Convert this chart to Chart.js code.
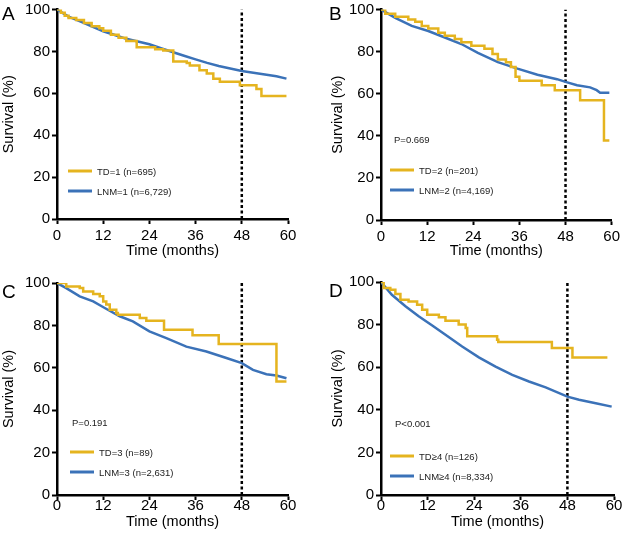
<!DOCTYPE html>
<html>
<head>
<meta charset="utf-8">
<script src="https://cdn.jsdelivr.net/npm/chart.js@4.4.1/dist/chart.umd.min.js"></script>
<style>
  html, body { margin: 0; padding: 0; background: #fff; }
  #wrap { position: relative; width: 624px; height: 536px; }
  .panel { position: absolute; width: 312px; height: 268px; }
</style>
</head>
<body>
<div id="wrap">
  <div class="panel" style="left:0;top:0"><canvas id="chartA" width="312" height="268"></canvas></div>
  <div class="panel" style="left:312px;top:0"><canvas id="chartB" width="312" height="268"></canvas></div>
  <div class="panel" style="left:0;top:268px"><canvas id="chartC" width="312" height="268"></canvas></div>
  <div class="panel" style="left:312px;top:268px"><canvas id="chartD" width="312" height="268"></canvas></div>
</div>
<script>
// axis ticks
const timeTicks = [0, 12, 24, 36, 48, 60];
const survivalTicks = [0, 20, 40, 60, 80, 100];
const cutoffMonth = 48;

// panel A: TD=1 vs LNM=1
const tdTimeA = [0, 1, 2, 3, 5, 7, 9, 11, 12, 14, 16, 18, 20.7, 25.5, 27.6, 30.2, 33.7, 34.5, 37, 38.9, 40.6, 42.3, 47.5, 51.8, 53.1, 59.6];
const tdSurvA = [100, 98.5, 97, 96, 95, 93.5, 92, 91, 89.8, 88, 86.5, 85, 82, 81, 80.4, 75.2, 74.5, 73.3, 71, 69.4, 67, 65.5, 63.9, 62, 58.7, 58.7];
const lnmTimeA = [0, 3, 6, 9, 12, 15, 18, 21, 24, 27, 30, 33, 36, 39, 42, 45, 48, 51, 54, 57, 59.6];
const lnmSurvA = [100, 96.6, 94.3, 92, 89.6, 87.8, 86, 84.7, 83.4, 81.5, 79.7, 77.9, 76.2, 74.5, 73, 71.8, 70.6, 69.8, 69, 68.1, 67];

// panel B: TD=2 vs LNM=2
const tdTimeB = [0, 1.1, 3.7, 7.1, 8.9, 10.6, 12.3, 14.9, 16.6, 19.2, 20.9, 23.5, 26.9, 29, 30.4, 32.5, 33.8, 35, 36, 41.8, 45.2, 51.8, 58, 59.4];
const tdSurvB = [100, 98, 96.6, 95.3, 94.2, 92.2, 91, 89, 87.5, 86, 84.4, 82.8, 81.3, 78.9, 76.2, 75, 72.7, 68, 66.1, 64, 61.6, 56.9, 37.8, 37.8];
const lnmTimeB = [0, 3.7, 8, 12.3, 16.6, 20.9, 25.2, 30.4, 35.5, 40.7, 45.8, 48, 51, 54.4, 56.1, 57, 59.4];
const lnmSurvB = [100, 96, 92.2, 89.8, 86.7, 83.6, 79.4, 75, 71.9, 69, 66.9, 65.6, 64, 63, 61.7, 60.5, 60.5];

// panel C: TD=3 vs LNM=3
const tdTimeC = [0, 2.4, 5.9, 6.8, 9.4, 11.1, 12, 12.8, 13.7, 15.4, 15.8, 21.5, 23.2, 27.8, 35.2, 42, 57, 59.6];
const tdSurvC = [100, 98.4, 97.6, 96, 94.8, 93.7, 91.3, 89.8, 87.4, 85.8, 85, 83.5, 82.2, 78, 75.3, 71.2, 53.5, 53.5];
const lnmTimeC = [0, 2.4, 5.9, 9.4, 12.4, 16.3, 19.7, 24, 28.4, 33.6, 38.8, 44, 48, 50.9, 54.4, 57, 59.6];
const lnmSurvC = [100, 97.6, 93.7, 91.3, 88.2, 84.3, 81.9, 77.2, 74, 70, 67.7, 64.6, 62.2, 59, 57, 56.4, 55.1];

// panel D: TD>=4 vs LNM>=4
const tdTimeD = [0, 0.7, 2.4, 3.7, 5, 7.1, 9.3, 10.6, 11.9, 14.9, 16.6, 20, 21.8, 22.2, 29.9, 30.2, 44, 49.3, 58.3];
const tdSurvD = [100, 97.2, 96.4, 94.4, 91.7, 90.9, 89.3, 87, 84.6, 83.4, 81.8, 80, 78.4, 74.5, 72.9, 71.8, 69, 64.6, 64.6];
const lnmTimeD = [0, 2.8, 6.3, 9.7, 13.2, 16.6, 20.9, 25.2, 29.5, 33.8, 38.1, 42.4, 48, 51, 55.3, 59.4];
const lnmSurvD = [100, 94, 88.6, 83.9, 79.6, 75.2, 69.7, 64.6, 60.3, 56.4, 53.3, 50.5, 46.2, 44.7, 43.1, 41.5];

const panelLetters = ['A', 'B', 'C', 'D'];
const tdLabels = ['TD=1 (n=695)', 'TD=2 (n=201)', 'TD=3 (n=89)', 'TD\u22654 (n=126)'];
const lnmLabels = ['LNM=1 (n=6,729)', 'LNM=2 (n=4,169)', 'LNM=3 (n=2,631)', 'LNM\u22654 (n=8,334)'];
const pValues = [null, 'P=0.669', 'P=0.191', 'P<0.001'];

const YELLOW = '#E5B41F';
const BLUE = '#3B72B8';
const FONT = '"Liberation Sans", Arial, Helvetica, sans-serif';

function toPoints(times, values) {
    return times.map((t, i) => ({ x: t, y: values[i] }));
}

// draws panel letter, inline legend and p value
const annotatePlugin = {
    id: 'annotate',
    afterDraw(chart, args, opts) {
        const ctx = chart.ctx;
        ctx.save();
        ctx.fillStyle = '#000';
        ctx.textBaseline = 'alphabetic';
        ctx.font = '19px ' + FONT;
        ctx.fillText(opts.letter, opts.letterPos.x, opts.letterPos.y);

        ctx.font = '9.5px ' + FONT;
        ctx.lineWidth = 3;
        const rows = [chart.data.datasets[0], chart.data.datasets[1]];
        rows.forEach((ds, i) => {
            const y = opts.legendPos.y + i * 20;
            ctx.strokeStyle = ds.borderColor;
            ctx.beginPath();
            ctx.moveTo(opts.legendPos.x, y);
            ctx.lineTo(opts.legendPos.x + 24, y);
            ctx.stroke();
            ctx.fillStyle = '#222';
            ctx.fillText(ds.label, opts.legendPos.x + 29, y + 4);
        });

        if (opts.pValue) {
            ctx.fillStyle = '#222';
            ctx.fillText(opts.pValue, opts.pPos.x, opts.pPos.y);
        }
        ctx.restore();
    }
};

function makeChart(id, idx, tdPts, lnmPts, layout) {
    const ctx = document.getElementById(id).getContext('2d');
    return new Chart(ctx, {
        type: 'line',
        data: {
            datasets: [{
                label: tdLabels[idx],
                data: tdPts,
                borderColor: YELLOW,
                borderWidth: 2.5,
                stepped: true,
                pointRadius: 0
            }, {
                label: lnmLabels[idx],
                data: lnmPts,
                borderColor: BLUE,
                borderWidth: 2.5,
                tension: 0,
                pointRadius: 0
            }, {
                label: 'cutoff',
                data: [{ x: cutoffMonth, y: 0 }, { x: cutoffMonth, y: 100 }],
                borderColor: '#000',
                borderWidth: 2.5,
                borderDash: [3, 2.5],
                pointRadius: 0
            }]
        },
        options: {
            responsive: false,
            animation: false,
            layout: { padding: layout.padding },
            plugins: {
                legend: { display: false },
                tooltip: { enabled: false },
                annotate: {
                    letter: panelLetters[idx],
                    letterPos: layout.letterPos,
                    legendPos: layout.legendPos,
                    pValue: pValues[idx],
                    pPos: layout.pPos
                }
            },
            scales: {
                x: {
                    type: 'linear',
                    min: 0,
                    max: 60,
                    afterBuildTicks: (scale) => { scale.ticks = timeTicks.map(v => ({ value: v })); },
                    afterFit: (scale) => { scale.height = layout.xHeight; },
                    grid: { drawOnChartArea: false, tickLength: 5, tickColor: '#000', tickWidth: 2 },
                    border: { color: '#000', width: 2.5 },
                    ticks: { color: '#000', font: { family: FONT, size: 15, lineHeight: 1 }, padding: layout.xTickPad, maxRotation: 0 },
                    title: { display: true, text: 'Time (months)', color: '#000', font: { family: FONT, size: 14.5 }, padding: { top: 0, bottom: layout.xTitlePad } }
                },
                y: {
                    min: 0,
                    max: 100,
                    afterBuildTicks: (scale) => { scale.ticks = survivalTicks.map(v => ({ value: v })); },
                    afterFit: (scale) => { scale.width = layout.yWidth; },
                    grid: { drawOnChartArea: false, tickLength: 5, tickColor: '#000', tickWidth: 2 },
                    border: { color: '#000', width: 2.5 },
                    ticks: { color: '#000', font: { family: FONT, size: 15, lineHeight: 1 }, padding: 2 },
                    title: { display: true, text: 'Survival (%)', color: '#000', font: { family: FONT, size: 14.5 }, padding: { top: 0, bottom: 0 } }
                }
            }
        },
        plugins: [annotatePlugin]
    });
}

makeChart('chartA', 0, toPoints(tdTimeA, tdSurvA), toPoints(lnmTimeA, lnmSurvA), {
    padding: { left: 0, top: 7, right: 24, bottom: 0 }, yWidth: 57, xHeight: 49, xTitlePad: 8, xTickPad: 4,
    letterPos: { x: 2, y: 20 }, legendPos: { x: 68, y: 171 }, pPos: { x: 0, y: 0 }
});
makeChart('chartB', 1, toPoints(tdTimeB, tdSurvB), toPoints(lnmTimeB, lnmSurvB), {
    padding: { left: 17, top: 7, right: 10, bottom: 0 }, yWidth: 52, xHeight: 48, xTitlePad: 8, xTickPad: 4,
    letterPos: { x: 17, y: 20 }, legendPos: { x: 78, y: 170 }, pPos: { x: 82, y: 143 }
});
makeChart('chartC', 2, toPoints(tdTimeC, tdSurvC), toPoints(lnmTimeC, lnmSurvC), {
    padding: { left: 0, top: 15, right: 24, bottom: 0 }, yWidth: 57, xHeight: 41, xTitlePad: 5, xTickPad: -2,
    letterPos: { x: 2, y: 30 }, legendPos: { x: 70, y: 184 }, pPos: { x: 72, y: 158 }
});
makeChart('chartD', 3, toPoints(tdTimeD, tdSurvD), toPoints(lnmTimeD, lnmSurvD), {
    padding: { left: 17, top: 14, right: 10, bottom: 0 }, yWidth: 52, xHeight: 41, xTitlePad: 5, xTickPad: -2,
    letterPos: { x: 17, y: 29 }, legendPos: { x: 78, y: 188 }, pPos: { x: 83, y: 159 }
});
</script>
</body>
</html>
